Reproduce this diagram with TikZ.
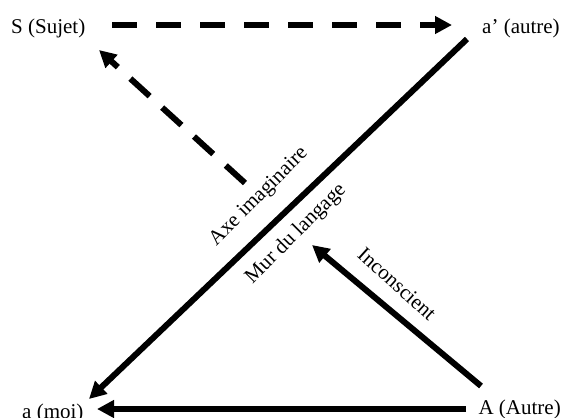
\documentclass[tikz,border=0pt]{standalone}
\usepackage{fontspec}
\setmainfont{Liberation Serif}
\usetikzlibrary{arrows.meta}
\begin{document}
\begin{tikzpicture}[x=1pt,y=-1pt,
  lbl/.style={inner sep=0pt, font=\fontsize{21}{25}\selectfont},
  arr/.style={line width=6pt, -{Triangle[length=17pt,width=17pt]}},
  plain/.style={line width=6pt},
  dsh/.style={arr, dash pattern=on 25pt off 19pt}]
\useasboundingbox (0,0) rectangle (563,418);
\node[lbl,anchor=base west] (S) at (11,33) {S (Sujet)};
\node[lbl,anchor=base west] (ap) at (482,33) {a’ (autre)};
\node[lbl,anchor=base west] (a) at (22,418) {a (moi)};
\node[lbl,anchor=base east] (A) at (561,414) {A (Autre)};
\coordinate (sOut) at (112,25);
\coordinate (apIn) at (452,25);
\coordinate (apOut) at (467,39);
\coordinate (aIn) at (89,399);
\coordinate (aIn2) at (97,409);
\coordinate (AOut) at (466,409);
\coordinate (AUp) at (481,386);
\coordinate (inc) at (312,245);
\coordinate (mid) at (245,183);
\coordinate (sIn) at (99,50);
\draw[dsh] (sOut) -- (apIn);
\draw[arr] (apOut) -- (aIn);
\draw[arr] (AOut) -- (aIn2);
\draw[arr] (AUp) -- (inc);
\draw[dsh, dash pattern=on 26pt off 17pt] (mid) -- (sIn);
\node[lbl, rotate=45] (axe) at (259,197) {Axe imaginaire};
\node[lbl, rotate=45] (mur) at (296,234) {Mur du langage};
\node[lbl, rotate=-42] (incl) at (397,284) {Inconscient};
\end{tikzpicture}
\end{document}
